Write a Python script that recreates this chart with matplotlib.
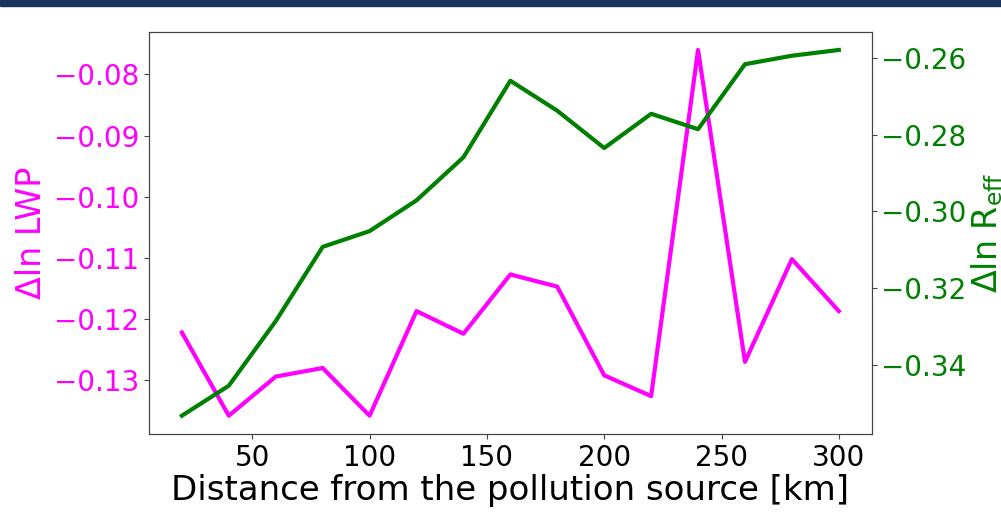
import matplotlib
matplotlib.use("Agg")
import matplotlib.pyplot as plt
from matplotlib.patches import Rectangle

distance_km = [20, 40, 60, 80, 100, 120, 140, 160, 180, 200, 220, 240, 260, 280, 300]
dln_lwp = [-0.1222, -0.1358, -0.1294, -0.1280, -0.1358, -0.1187, -0.1224, -0.1127,
           -0.1147, -0.1292, -0.1326, -0.0760, -0.1270, -0.1102, -0.1187]
dln_reff = [-0.3531, -0.3453, -0.3285, -0.3092, -0.3051, -0.2971, -0.2859, -0.2660,
            -0.2738, -0.2835, -0.2746, -0.2786, -0.2617, -0.2595, -0.2580]

fig = plt.figure(figsize=(10.01, 5.22), dpi=100)
fig.patches.append(Rectangle((0, 1 - 6 / 522), 1, 6 / 522, transform=fig.transFigure,
                             color="#1b345c", zorder=10))
ax = fig.add_axes([0.1489, 0.1686, 0.7219, 0.7707])
ax.plot(distance_km, dln_lwp, color="magenta", lw=3)
ax.set_ylabel("Δln LWP", color="magenta", fontsize=24, labelpad=4)
ax.tick_params(axis="y", colors="magenta", labelsize=20)
ax.tick_params(axis="x", labelsize=20)
ax.set_xlabel("Distance from the pollution source [km]", fontsize=24.5, labelpad=2)
for s in ax.spines.values():
    s.set_color("#444444")

ax2 = ax.twinx()
ax2.plot(distance_km, dln_reff, color="green", lw=3)
ax2.set_ylabel(r"Δln R$_{\mathrm{eff}}$", color="green", fontsize=24, labelpad=2)
ax2.tick_params(axis="y", colors="green", labelsize=20)
for s in ax2.spines.values():
    s.set_color("#444444")
ax.tick_params(axis="y", color="#444444")
ax2.tick_params(axis="y", color="#444444")
ax.tick_params(axis="x", color="#444444")

fig.savefig("out.png", dpi=100)
